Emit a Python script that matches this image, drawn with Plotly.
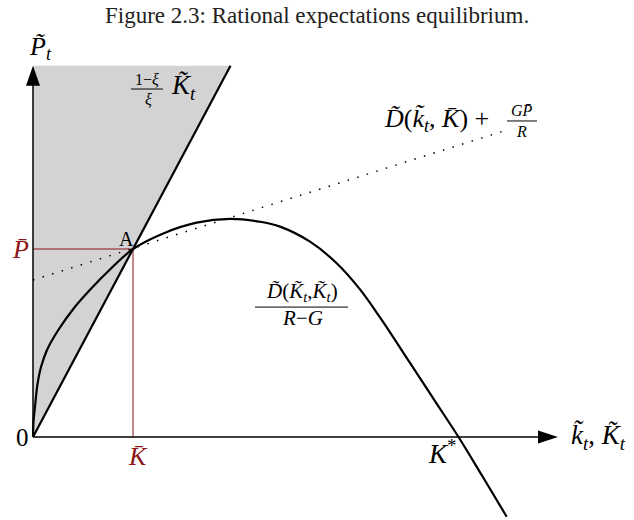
import plotly.graph_objects as go

# Aggregate demand curve D(K,K)/(R-G); K in units of K-bar, P in units of P-bar
curve_k = [0.0, 0.006, 0.02, 0.045, 0.08, 0.14, 0.253, 0.42, 0.587, 0.77, 1.0,
           1.303, 1.637, 1.97, 2.27, 2.47, 2.77, 3.037, 3.27, 3.47, 3.77,
           4.02, 4.255, 4.49, 4.737]
curve_p = [0.0, 0.090, 0.161, 0.282, 0.372, 0.463, 0.569, 0.693, 0.793, 0.891, 1.0,
           1.083, 1.140, 1.160, 1.145, 1.119, 1.039, 0.924, 0.785, 0.636, 0.394,
           0.191, 0.0, -0.205, -0.424]

# Upper bound (1-xi)/xi * K
bound_k = [0.0, 1.975]
bound_p = [0.0, 1.975]

# Individual demand D(k, K-bar) + G P-bar / R
indiv_k = [0.0, 4.72]
indiv_p = [0.835, 1.630]

# Equilibrium point A and K*
k_bar, p_bar = 1.0, 1.0
k_star = 4.255

# Axis extents
x_end = 5.25
y_end = 1.975

X_RANGE = [-0.33, 6.01]
Y_RANGE = [-0.4415, 2.3245]

RED = "#8c1515"
SERIF = "Liberation Serif"

fig = go.Figure()

# shaded admissible region above the bound line
fig.add_trace(go.Scatter(
    x=[0, 0, bound_k[1], 0], y=[0, y_end, bound_p[1], 0],
    fill="toself", fillcolor="#d3d3d3", line=dict(width=0),
    mode="lines", hoverinfo="skip"))

# equilibrium guides
fig.add_trace(go.Scatter(x=[0, k_bar, k_bar], y=[p_bar, p_bar, 0],
                         mode="lines", line=dict(color=RED, width=1)))

# individual demand (dotted)
fig.add_trace(go.Scatter(x=indiv_k, y=indiv_p, mode="lines",
                         line=dict(color="black", width=1.5, dash="1.5px,8.5px")))

# aggregate demand curve
fig.add_trace(go.Scatter(x=curve_k, y=curve_p, mode="lines",
                         line=dict(color="black", width=2.2, shape="spline", smoothing=1.0)))

# bound line
fig.add_trace(go.Scatter(x=bound_k, y=bound_p, mode="lines",
                         line=dict(color="black", width=2.2)))

# axes
fig.add_trace(go.Scatter(x=[0, x_end - 0.15], y=[0, 0], mode="lines",
                         line=dict(color="black", width=1.5)))
fig.add_trace(go.Scatter(x=[0, 0], y=[0, y_end - 0.08], mode="lines",
                         line=dict(color="black", width=1.5)))

shapes = [
    # arrowheads
    dict(type="path", xref="x", yref="y",
         path=f"M {x_end},0 L {x_end-0.2},0.034 L {x_end-0.2},-0.034 Z",
         fillcolor="black", line=dict(width=0)),
    dict(type="path", xref="x", yref="y",
         path=f"M 0,{y_end} L 0.07,{y_end-0.107} L -0.07,{y_end-0.107} Z",
         fillcolor="black", line=dict(width=0)),
    # fraction bars
    dict(type="line", x0=0.98, x1=1.30, y0=1.851, y1=1.851, line=dict(color="black", width=1)),
    dict(type="line", x0=4.74, x1=5.04, y0=1.681, y1=1.681, line=dict(color="black", width=1)),
    dict(type="line", x0=2.22, x1=3.15, y0=0.691, y1=0.691, line=dict(color="black", width=1)),
]

def label(x, y, text, size=26, color="black", xanchor="center"):
    return dict(x=x, y=y, xref="x", yref="y", text=text, showarrow=False,
                xanchor=xanchor, yanchor="middle",
                font=dict(family=SERIF, size=size, color=color))

annotations = [
    dict(x=0.5, y=1 - 15 / 520, xref="paper", yref="paper", yanchor="middle",
         text="Figure 2.3: Rational expectations equilibrium.", showarrow=False,
         font=dict(family=SERIF, size=23, color="#222")),
    label(0.07, 2.069, "<i>P̃</i><sub><i>t</i></sub>"),
    label(1.14, 1.904, "1−<i>ξ</i>", size=16),
    label(1.15, 1.793, "<i>ξ</i>", size=16),
    label(1.50, 1.86, "<i>K̃</i><sub><i>t</i></sub>", size=27),
    label(4.58, 1.686, "<i>D̃</i>(<i>k̃</i><sub><i>t</i></sub>, <i>K̄</i>) +", xanchor="right"),
    label(4.89, 1.738, "<i>GP̄</i>", size=16),
    label(4.885, 1.625, "<i>R</i>", size=16),
    label(0.935, 1.053, "A", size=20),
    label(-0.13, 0.995, "<i>P̄</i>", color=RED),
    label(1.05, -0.106, "<i>K̄</i>", color=RED),
    label(-0.11, 0.0, "0", size=25),
    label(4.09, -0.08, "<i>K</i><sup>*</sup>", size=27),
    label(5.65, 0.0, "<i>k̃</i><sub><i>t</i></sub>, <i>K̃</i><sub><i>t</i></sub>", size=27),
    label(2.685, 0.773, "<i>D̃</i>(<i>K̃</i><sub><i>t</i></sub>,<i>K̃</i><sub><i>t</i></sub>)", size=21),
    label(2.69, 0.632, "<i>R</i>−<i>G</i>", size=21),
]

fig.update_layout(
    width=634, height=520, autosize=False,
    margin=dict(l=0, r=0, t=0, b=0, pad=0),
    paper_bgcolor="white", plot_bgcolor="white",
    showlegend=False,
    xaxis=dict(range=X_RANGE, visible=False, fixedrange=True),
    yaxis=dict(range=Y_RANGE, visible=False, fixedrange=True),
    shapes=shapes, annotations=annotations,
)

fig.write_html("out.html", config={"displayModeBar": False})
